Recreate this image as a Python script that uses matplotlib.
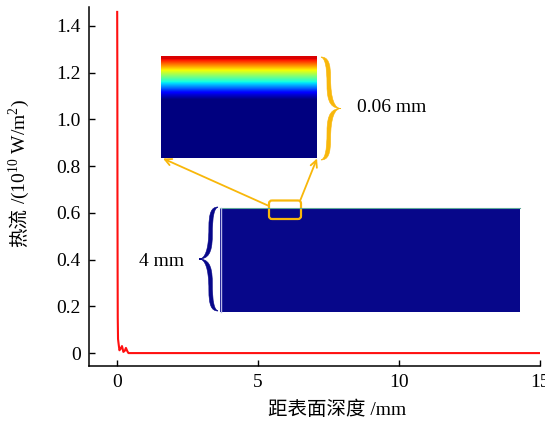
import numpy as np
import matplotlib.pyplot as plt
from matplotlib.path import Path
from matplotlib.patches import PathPatch, Rectangle, FancyBboxPatch

# 字体与样式
plt.rcParams.update({
    'font.family': ['Liberation Serif', 'Noto Sans CJK SC'],
    'mathtext.fontset': 'custom',
    'mathtext.rm': 'Liberation Serif',
    'axes.unicode_minus': False,
    'font.size': 14,
})

RED = '#FF1010'
ORANGE = '#F8B70A'
NAVY = '#07078A'

# 热流沿深度分布
depth_mm = [0.0, 0.005, 0.01, 0.015, 0.02, 0.03, 0.05, 0.08, 0.13, 0.17,
            0.22, 0.27, 0.31, 0.36, 0.40, 15.0]
heat_flux = [1.46, 1.22, 0.66, 0.35, 0.15, 0.06, 0.04, 0.012, 0.02, 0.03,
             0.005, 0.01, 0.022, 0.008, 0.0, 0.0]

x_ticks = [0, 5, 10, 15]
y_ticks = [0, 0.2, 0.4, 0.6, 0.8, 1.0, 1.2, 1.4]
y_tick_labels = ['0', '0.2', '0.4', '0.6', '0.8', '1.0', '1.2', '1.4']

# 表层温度场色带 (归一化, 自上而下)
layer_values = [0.92, 0.80, 0.68, 0.56, 0.44, 0.32, 0.20, 0.08, 0.0,
                0.0, 0.0, 0.0, 0.0, 0.0, 0.0, 0.0, 0.0, 0.0, 0.0, 0.0]

W, H = 545, 430
fig = plt.figure(figsize=(W / 100, H / 100), dpi=100)
ax = fig.add_axes([89 / W, 1 - 365.7 / H, (540 - 89) / W, (365.7 - 7) / H])

ax.plot(depth_mm, heat_flux, color=RED, lw=1.5)
ax.set_xlim(-1, 15)
ax.set_ylim(-0.054, 1.481)
ax.set_xticks(x_ticks)
ax.set_yticks(y_ticks)
ax.set_yticklabels(y_tick_labels)
ax.tick_params(direction='in', length=4, width=1, labelsize=14)
ax.tick_params(axis='x', pad=6)
ax.tick_params(axis='y', pad=6)
for s in ['top', 'right']:
    ax.spines[s].set_visible(False)
for s in ['left', 'bottom']:
    ax.spines[s].set_linewidth(1.1)

ax.set_xlabel('距表面深度 /mm', fontsize=14, va='center')
ax.xaxis.set_label_coords(0.55, -0.123)

# y 轴标题: 中文部分与公式部分分开绘制 (mathtext 不支持中文回退)
renderer = fig.canvas.get_renderer()
yl_kw = dict(rotation=90, rotation_mode='anchor', ha='left', va='baseline',
             fontsize=14)
t1 = fig.text(0, 0, '热流', family=['Noto Sans CJK SC'], **yl_kw)
t2 = fig.text(0, 0, '/(10$^{10}$ W/m$^{2}$)', **yl_kw)
h1 = t1.get_window_extent(renderer).height
h2 = t2.get_window_extent(renderer).height
gap = 4
total = h1 + gap + h2
y_start = (H - 173) - total / 2   # 显示坐标 (自下而上)
x_base = 25
t1.set_position((x_base / W, y_start / H))
t2.set_position((x_base / W, (y_start + h1 + gap) / H))

# 叠加层 (像素坐标)
ov = fig.add_axes([0, 0, 1, 1], zorder=5)
ov.set_axis_off()
ov.patch.set_alpha(0)


def brace(x_end, x_tip, y_top, y_bot, color, ax_):
    """画花括号, x_tip 在 x_end 右侧为 '}', 左侧为 '{'"""
    w = x_tip - x_end
    h = y_bot - y_top

    def p(u, v):
        return (x_end + u * w, y_top + v * h)

    verts = [p(0, 0),
             # 外缘上半
             p(0.36, 0.0), p(0.48, 0.06), p(0.48, 0.2),
             p(0.48, 0.42), p(0.7, 0.5), p(1, 0.5),
             # 外缘下半
             p(0.7, 0.5), p(0.48, 0.58), p(0.48, 0.8),
             p(0.48, 0.94), p(0.36, 1.0), p(0, 1),
             # 内缘下半
             p(0.18, 0.985), p(0.3, 0.93), p(0.3, 0.72),
             p(0.3, 0.55), p(0.55, 0.5), p(1, 0.5),
             # 内缘上半
             p(0.55, 0.5), p(0.3, 0.45), p(0.3, 0.28),
             p(0.3, 0.07), p(0.18, 0.015), p(0, 0),
             p(0, 0)]
    codes = [Path.MOVETO] + [Path.CURVE4] * 24 + [Path.CLOSEPOLY]
    ax_.add_patch(PathPatch(Path(verts, codes), facecolor=color,
                            edgecolor=color, lw=0.4))


# 上方: 表层放大图
ov.imshow(np.array(layer_values)[:, None], cmap='jet', vmin=0, vmax=1,
          aspect='auto', interpolation='bilinear',
          extent=(161, 317, 158, 56))
brace(321, 341, 57, 160, ORANGE, ov)
ov.text(357, 108, '0.06 mm', fontsize=14, ha='left', va='center')

# 下方: 整体截面
ov.add_patch(Rectangle((220, 207.5), 300, 104, facecolor=NAVY,
                       edgecolor='none'))
ov.plot([220, 520], [208, 208], color='#5FA89A', lw=0.8)
ov.plot([220.5, 220.5], [208, 311.5], color='#B8B8E8', lw=1.0)
brace(218, 199, 207, 311, NAVY, ov)
ov.text(162, 261, '4 mm', fontsize=14, ha='center', va='center')

# 放大框与引线
ov.add_patch(FancyBboxPatch((269, 200.5), 32, 18.5,
                            boxstyle='round,pad=0,rounding_size=3',
                            facecolor='none', edgecolor=ORANGE, lw=1.6))
ov.annotate('', xy=(163, 158.5), xytext=(269, 206),
            arrowprops=dict(arrowstyle='->', color=ORANGE, lw=1.3,
                            shrinkA=0, shrinkB=0, mutation_scale=12))
ov.annotate('', xy=(317, 158.5), xytext=(300, 201),
            arrowprops=dict(arrowstyle='->', color=ORANGE, lw=1.3,
                            shrinkA=0, shrinkB=0, mutation_scale=12))

ov.set_xlim(0, W)
ov.set_ylim(H, 0)

fig.savefig('out.png', dpi=100)
plt.close(fig)
